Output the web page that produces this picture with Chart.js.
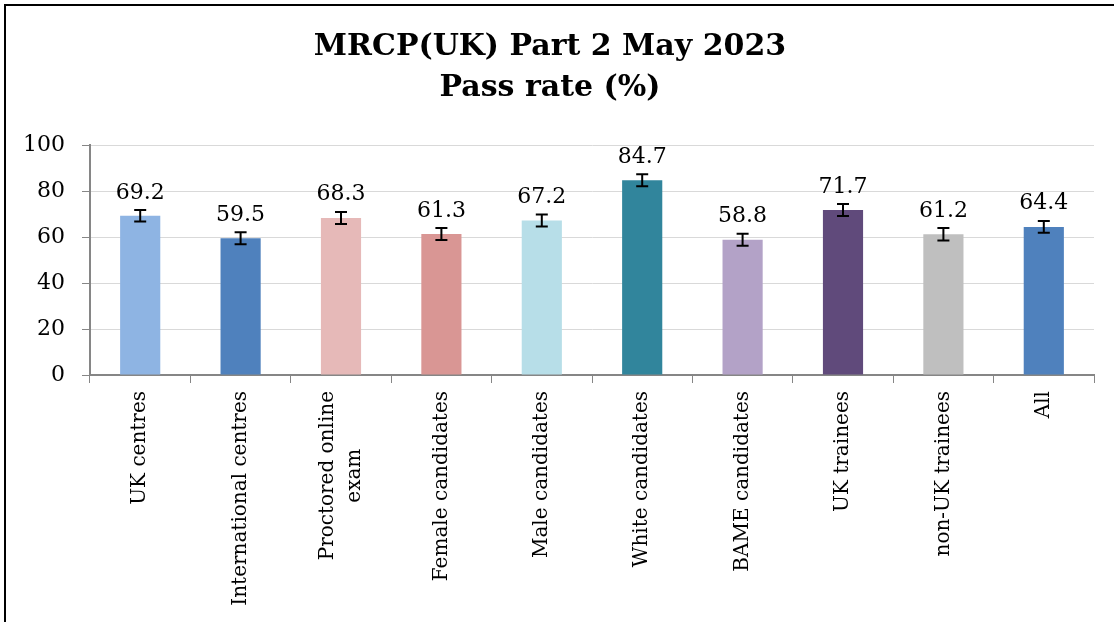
<!DOCTYPE html>
<html>
<head>
<meta charset="utf-8">
<title>MRCP(UK) Part 2 May 2023 - Pass rate</title>
<script src="https://cdn.jsdelivr.net/npm/chart.js@4.4.0/dist/chart.umd.min.js"></script>
<style>
    html, body { margin: 0; padding: 0; background: #fff; }
    #box { width: 1114px; height: 622px; }
</style>
</head>
<body>
<div id="box"><canvas id="myChart" width="1114" height="622"></canvas></div>
<script>
// Données du graphique
var categories = ['UK centres', 'International centres', ['Proctored online', 'exam'], 'Female candidates',
    'Male candidates', 'White candidates', 'BAME candidates', 'UK trainees', 'non-UK trainees', 'All'];
var passRates = [69.2, 59.5, 68.3, 61.3, 67.2, 84.7, 58.8, 71.7, 61.2, 64.4];
var errorMargins = [2.5, 2.6, 2.6, 2.6, 2.6, 2.6, 2.6, 2.6, 2.7, 2.6];
var yTicks = [0, 20, 40, 60, 80, 100];
var barColors = ['#8EB4E3', '#4F81BD', '#E6B9B8', '#D99694', '#B7DEE8',
    '#31859C', '#B3A2C7', '#604A7B', '#BFBFBF', '#4F81BD'];

var serif = '"DejaVu Serif", "Liberation Serif", serif';
var gris = '#868686';

// Cadre noir + fond blanc
var framePlugin = {
    id: 'framePlugin',
    beforeDraw: function (chart) {
        var ctx = chart.ctx;
        ctx.save();
        ctx.fillStyle = '#fff';
        ctx.fillRect(0, 0, chart.width, chart.height);
        ctx.strokeStyle = '#000';
        ctx.lineWidth = 2;
        ctx.beginPath();
        ctx.moveTo(5, chart.height);
        ctx.lineTo(5, 5);
        ctx.lineTo(chart.width, 5);
        ctx.stroke();
        ctx.restore();
    }
};

// Barres d'erreur, valeurs au-dessus des barres et libellés verticaux
var errorAndLabels = {
    id: 'errorAndLabels',
    afterDatasetsDraw: function (chart) {
        var ctx = chart.ctx;
        var yScale = chart.scales.y;
        var xScale = chart.scales.x;
        var meta = chart.getDatasetMeta(0);

        ctx.save();
        meta.data.forEach(function (bar, i) {
            var x = bar.x;
            var top = yScale.getPixelForValue(passRates[i] + errorMargins[i]);
            var bottom = yScale.getPixelForValue(passRates[i] - errorMargins[i]);

            ctx.strokeStyle = '#000';
            ctx.lineWidth = 2;
            ctx.beginPath();
            ctx.moveTo(x, top);
            ctx.lineTo(x, bottom);
            ctx.moveTo(x - 6, top);
            ctx.lineTo(x + 6, top);
            ctx.moveTo(x - 6, bottom);
            ctx.lineTo(x + 6, bottom);
            ctx.stroke();

            ctx.fillStyle = '#000';
            ctx.font = '22px ' + serif;
            ctx.textAlign = 'center';
            ctx.textBaseline = 'alphabetic';
            ctx.fillText(passRates[i].toFixed(1), x, top - 11.5);
        });

        ctx.font = '20px ' + serif;
        ctx.fillStyle = '#000';
        categories.forEach(function (label, i) {
            var lines = Array.isArray(label) ? label : [label];
            var cx = xScale.getPixelForTick(i);
            var widest = 0;
            lines.forEach(function (l) {
                widest = Math.max(widest, ctx.measureText(l).width);
            });
            ctx.save();
            ctx.translate(cx, xScale.top + 16 + widest / 2);
            ctx.rotate(-Math.PI / 2);
            ctx.textAlign = 'center';
            ctx.textBaseline = 'middle';
            lines.forEach(function (line, k) {
                ctx.fillText(line, 0, (k - (lines.length - 1) / 2) * 27);
            });
            ctx.restore();
        });
        ctx.restore();
    }
};

var data = {
    labels: categories,
    datasets: [{
        label: 'Pass rate (%)',
        data: passRates,
        backgroundColor: barColors,
        borderWidth: 0,
        barPercentage: 0.4,
        categoryPercentage: 1.0
    }]
};

var options = {
    responsive: false,
    animation: false,
    layout: {
        padding: { left: 6, top: 6, right: 20, bottom: 0 }
    },
    plugins: {
        legend: { display: false },
        tooltip: { enabled: false },
        title: {
            display: true,
            text: ['MRCP(UK) Part 2 May 2023', 'Pass rate (%)'],
            color: '#000',
            font: { family: serif, size: 30, weight: 'bold', lineHeight: 1.35 },
            padding: { top: 21, bottom: 37 }
        }
    },
    scales: {
        y: {
            min: yTicks[0],
            max: yTicks[yTicks.length - 1],
            afterBuildTicks: function (scale) {
                scale.ticks = yTicks.map(function (v) { return { value: v }; });
            },
            afterFit: function (scale) {
                scale.width = 84;
            },
            grid: {
                color: function (c) {
                    return c.tick && c.tick.value === 0 ? 'rgba(0,0,0,0)' : '#d9d9d9';
                },
                tickColor: gris,
                tickLength: 8,
                lineWidth: 1
            },
            border: { color: gris, width: 2 },
            ticks: {
                color: '#000',
                padding: 17,
                font: { family: serif, size: 22 }
            }
        },
        x: {
            afterFit: function (scale) {
                scale.height = 247;
            },
            grid: {
                display: true,
                drawOnChartArea: false,
                offset: true,
                tickColor: gris,
                tickLength: 8
            },
            border: { color: gris, width: 2 },
            ticks: { display: false }
        }
    }
};

var ctx = document.getElementById('myChart').getContext('2d');
var myChart = new Chart(ctx, {
    type: 'bar',
    data: data,
    options: options,
    plugins: [framePlugin, errorAndLabels]
});
</script>
</body>
</html>
